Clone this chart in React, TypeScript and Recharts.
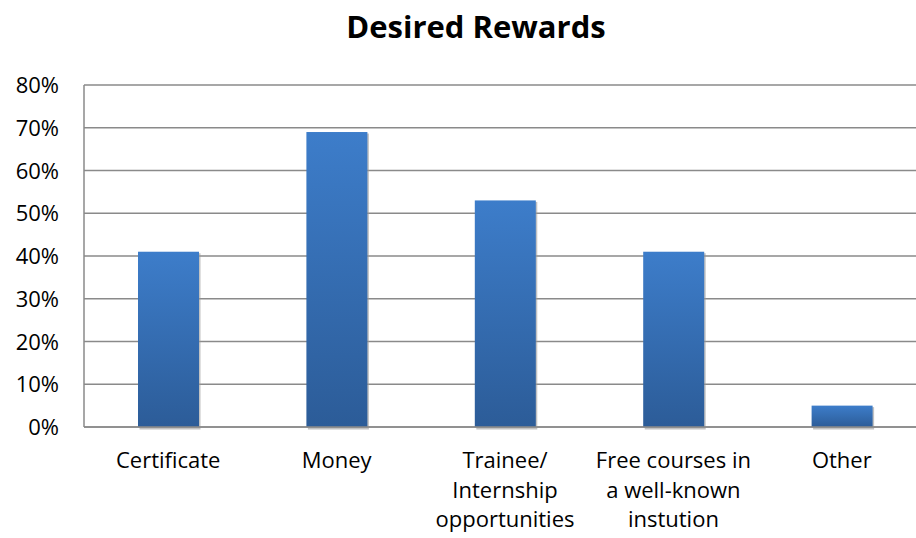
import React from 'react';
import { BarChart, Bar, XAxis, YAxis, CartesianGrid } from 'recharts';

const categories = ['Certificate', 'Money', 'Trainee/\nInternship\nopportunities', 'Free courses in\na well-known\ninstution', 'Other'];
const values = [41, 69, 53, 41, 5];
const yTicks = [0, 10, 20, 30, 40, 50, 60, 70, 80];

const data = categories.map((c, i) => ({ name: c, value: values[i] }));

const FONT = '"Open Sans", sans-serif';

const XTick = (props: any) => {
  const { x, y, payload } = props;
  const lines = String(payload.value).split('\n');
  return (
    <text x={x} y={y} textAnchor="middle" fontFamily={FONT} fontSize={22} fill="#000">
      {lines.map((l: string, i: number) => (
        <tspan key={i} x={x} dy={i === 0 ? 33 : 29.5}>{l}</tspan>
      ))}
    </text>
  );
};

const YTick = (props: any) => {
  const { x, y, payload } = props;
  return (
    <text x={x} y={y} dy={8} textAnchor="end" fontFamily={FONT} fontSize={22} fill="#000">
      {payload.value + '%'}
    </text>
  );
};

const BarShape = (props: any) => {
  const { x, y, width, height } = props;
  return (
    <g>
      <rect x={x + 1.5} y={y + 1.5} width={width} height={height + 1} fill="#9a9a9a" opacity={0.6} />
      <rect x={x} y={y} width={width} height={height} fill="url(#barGrad)" />
    </g>
  );
};

export default function App() {
  return (
    <div style={{ position: 'absolute', left: 0, top: 0, width: 916, height: 538, overflow: 'hidden', background: '#fff' }}>
      <div style={{ position: 'absolute', left: 0, top: 5, width: 952, textAlign: 'center', fontFamily: FONT, fontWeight: 700, fontSize: 31, lineHeight: '42px', color: '#000' }}>
        Desired Rewards
      </div>
      <BarChart width={926} height={538} data={data} margin={{ top: 85, right: 0, left: 0, bottom: 0 }} barSize={61}>
        <defs>
          <linearGradient id="barGrad" x1="0" y1="0" x2="0" y2="1">
            <stop offset="0%" stopColor="#3d7dca" />
            <stop offset="100%" stopColor="#2c5c98" />
          </linearGradient>
        </defs>
        <CartesianGrid vertical={false} stroke="#8a8a8a" strokeWidth={1.5} />
        <XAxis dataKey="name" tick={<XTick />} tickLine={false} axisLine={{ stroke: '#8a8a8a', strokeWidth: 1.5 }} height={111} interval={0} />
        <YAxis domain={[0, 80]} ticks={yTicks} tick={<YTick />} tickLine={false} tickSize={0} tickMargin={25} axisLine={{ stroke: '#8a8a8a', strokeWidth: 1.5 }} width={84} />
        <Bar dataKey="value" isAnimationActive={false} shape={<BarShape />} />
      </BarChart>
    </div>
  );
}
